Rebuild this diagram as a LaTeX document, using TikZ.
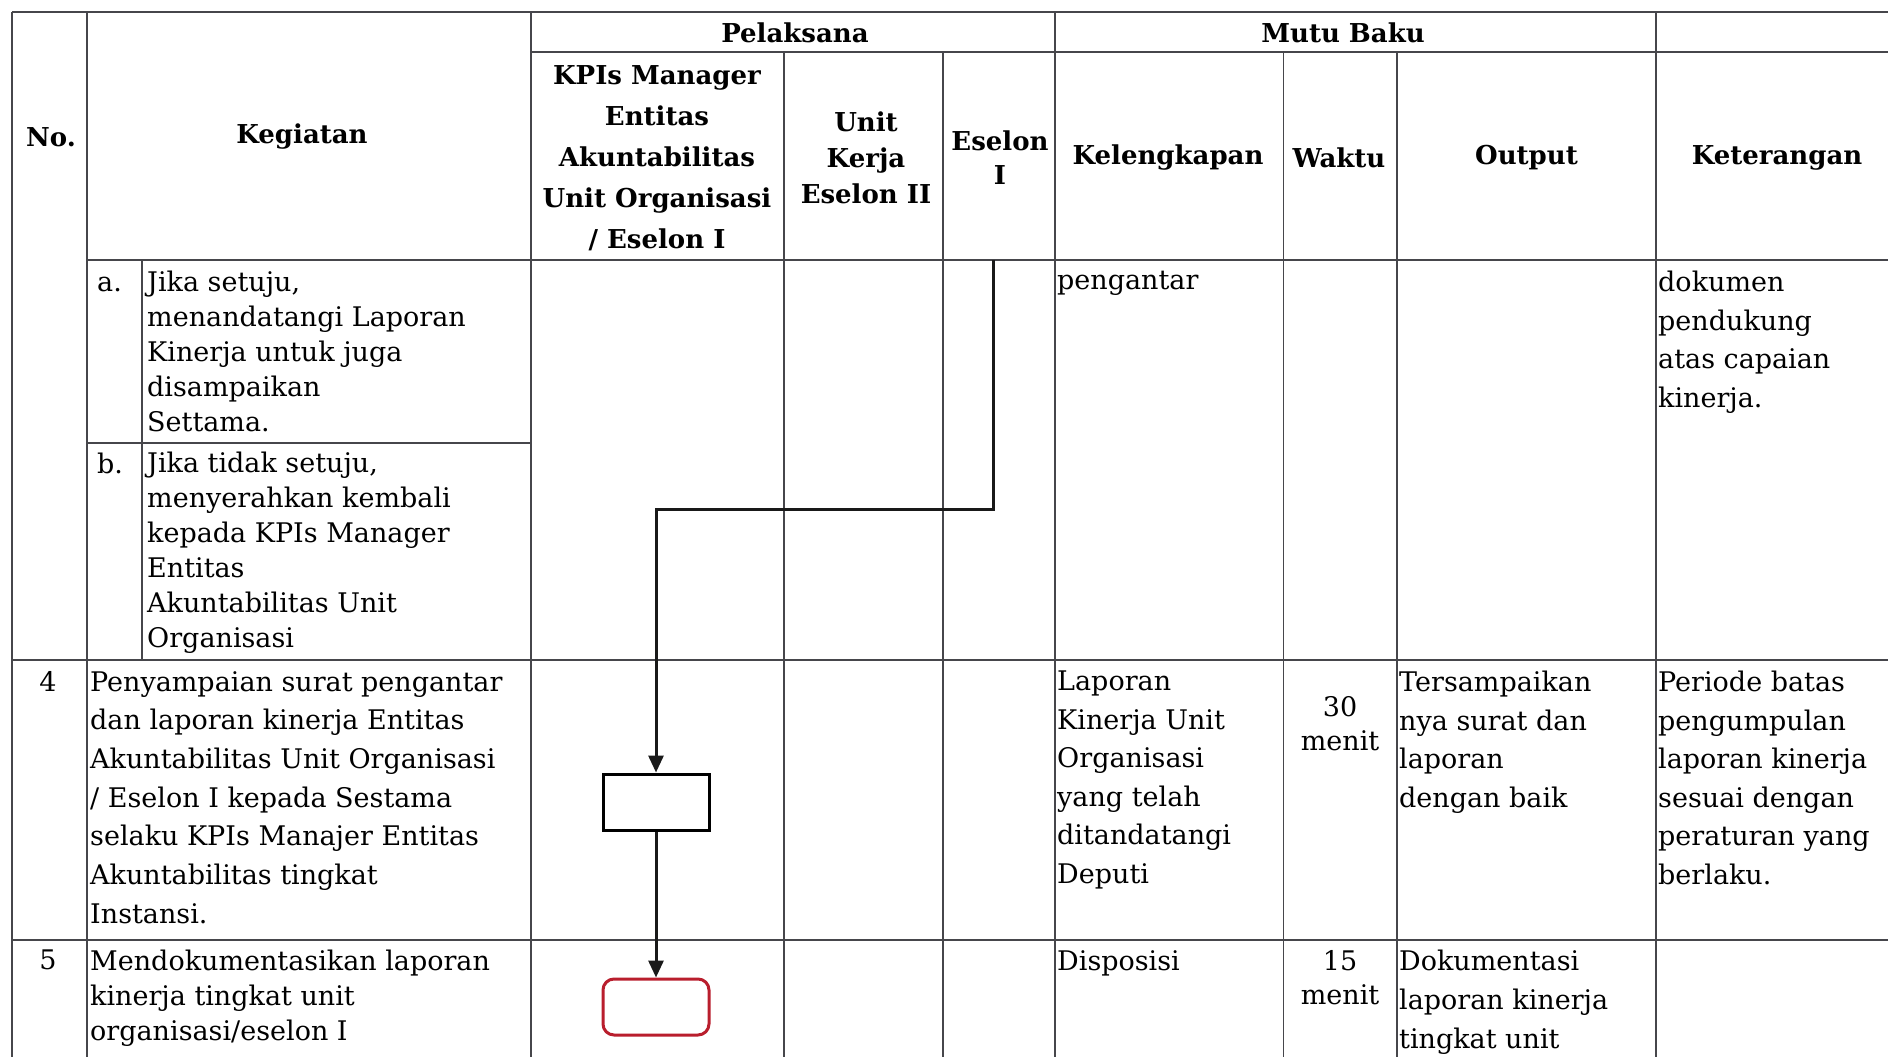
\documentclass[tikz,border=0pt]{standalone}
\usepackage{fontspec}
\setmainfont{DejaVu Serif}
\usetikzlibrary{arrows.meta}
\definecolor{gridc}{RGB}{70,70,75}
\definecolor{redbox}{RGB}{185,30,45}
\begin{document}
\begin{tikzpicture}[x=1pt,y=-1pt,
  gridline/.style={line width=1.5pt, draw=gridc},
  hdr/.style={font=\bfseries\fontsize{26}{41}\selectfont, align=center, inner sep=0pt, anchor=center},
  bodyA/.style={font=\fontsize{27}{38.5}\selectfont, align=left, inner sep=0pt, anchor=north west},
  bodyB/.style={font=\fontsize{27}{35}\selectfont, align=left, inner sep=0pt, anchor=north west},
  numc/.style={font=\fontsize{27}{34}\selectfont, align=center, inner sep=0pt, anchor=north},
  procbox/.style={draw=black, line width=3pt, minimum width=106pt, minimum height=56pt, inner sep=0pt},
  endbox/.style={draw=redbox, line width=3pt, rounded corners=11pt, minimum width=106pt, minimum height=56pt, inner sep=0pt},
  conn/.style={line width=3pt, draw=black!90, -{Triangle[length=17pt,width=15pt]}}]
\useasboundingbox (0,0) rectangle (1888,1057);
\fill[white] (0,0) rectangle (1888,1057);
% horizontal grid lines
\draw[gridline] (12,12) -- (1888,12);
\draw[gridline] (531,52) -- (1888,52);
\draw[gridline] (87,260) -- (1888,260);
\draw[gridline] (87,443) -- (531,443);
\draw[gridline] (12,660) -- (1888,660);
\draw[gridline] (12,940) -- (1888,940);
% vertical grid lines
\draw[gridline] (12,12) -- (12,1060);
\draw[gridline] (87,12) -- (87,1060);
\draw[gridline] (142,260) -- (142,660);
\draw[gridline] (531,12) -- (531,1060);
\draw[gridline] (784,52) -- (784,1060);
\draw[gridline] (943,52) -- (943,1060);
\draw[gridline] (1055,12) -- (1055,1060);
\draw[gridline] (1283.5,52) -- (1283.5,1060);
\draw[gridline] (1397,52) -- (1397,1060);
\draw[gridline] (1656,12) -- (1656,1060);
% header texts
\node[hdr] (hNo) at (51,137) {No.};
\node[hdr] (hKeg) at (302,137) {Kegiatan};
\node[hdr] (hPel) at (795,33) {Pelaksana};
\node[hdr] (hMutu) at (1343,33) {Mutu Baku};
\node[hdr] (hKPI) at (657,158) {KPIs Manager\\Entitas\\Akuntabilitas\\Unit Organisasi\\/ Eselon I};
\node[hdr, font=\bfseries\fontsize{26}{36}\selectfont] (hUnit) at (866,158) {Unit\\Kerja\\Eselon II};
\node[hdr, font=\bfseries\fontsize{26}{34}\selectfont] (hEs) at (1000,158) {Eselon\\I};
\node[hdr] (hKel) at (1168,158) {Kelengkapan};
\node[hdr] (hWak) at (1339,158) {Waktu};
\node[hdr] (hOut) at (1526.5,158) {Output};
\node[hdr] (hKet) at (1777,158) {Keterangan};
% row 3 (continued)
\node[bodyB] (la) at (97,277) {a.};
\node[bodyB] (ta) at (147,271) {Jika setuju,\\menandatangi Laporan\\Kinerja untuk juga\\disampaikan\\Settama.};
\node[bodyB] (lb) at (97,453) {b.};
\node[bodyB] (tb) at (147,452) {Jika tidak setuju,\\menyerahkan kembali\\kepada KPIs Manager\\Entitas\\Akuntabilitas Unit\\Organisasi};
\node[bodyA] (k3) at (1057,271) {pengantar};
\node[bodyA] (ket3) at (1658,271) {dokumen\\pendukung\\atas capaian\\kinerja.};
% row 4
\node[numc] (n4) at (48,671) {4};
\node[bodyA, font=\fontsize{27}{38.7}\selectfont] (t4) at (90,671) {Penyampaian surat pengantar\\dan laporan kinerja Entitas\\Akuntabilitas Unit Organisasi\\/ Eselon I kepada Sestama\\selaku KPIs Manajer Entitas\\Akuntabilitas tingkat\\Instansi.};
\node[bodyA] (k4) at (1057,671) {Laporan\\Kinerja Unit\\Organisasi\\yang telah\\ditandatangi\\Deputi};
\node[numc] (w4) at (1340,696) {30\\menit};
\node[bodyA] (o4) at (1399,671) {Tersampaikan\\nya surat dan\\laporan\\dengan baik};
\node[bodyA] (ket4) at (1658,671) {Periode batas\\pengumpulan\\laporan kinerja\\sesuai dengan\\peraturan yang\\berlaku.};
% row 5
\node[numc] (n5) at (48,950) {5};
\node[bodyB] (t5) at (90,950) {Mendokumentasikan laporan\\kinerja tingkat unit\\organisasi/eselon I};
\node[bodyA] (k5) at (1057,950) {Disposisi};
\node[numc, font=\fontsize{27}{34.5}\selectfont] (w5) at (1340,950) {15\\menit};
\node[bodyA, font=\fontsize{27}{39}\selectfont] (o5) at (1399,950) {Dokumentasi\\laporan kinerja\\tingkat unit};
% flow shapes
\node[procbox] (box4) at (656,802) {};
\node[endbox] (box5) at (656,1007) {};
\coordinate (start) at (993,260);
\coordinate (bend) at (993,509);
\draw[conn] (start) -- (bend) -| (box4.north);
\draw[conn] (box4.south) -- (box5.north);
\end{tikzpicture}
\end{document}
